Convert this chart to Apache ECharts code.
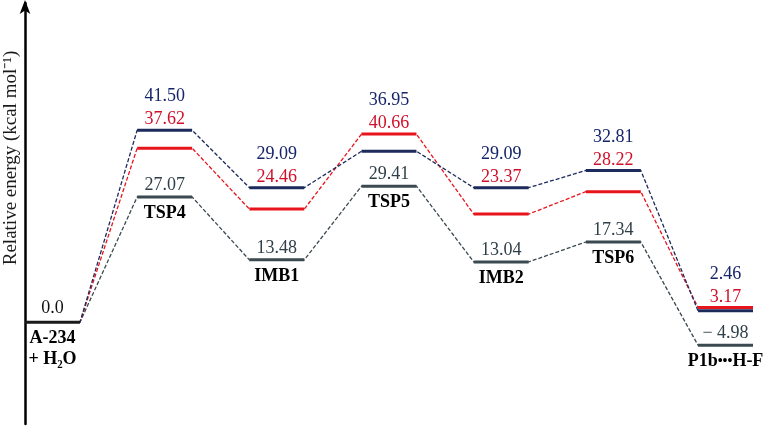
<!DOCTYPE html>
<html><head><meta charset="utf-8">
<script src="https://cdn.jsdelivr.net/npm/echarts@6/dist/echarts.min.js"></script>
<style>html,body{margin:0;padding:0;background:#fff}#c{width:770px;height:427px}</style>
</head><body><div id="c"></div>
<script>
var categories = ['A-234\n+ H₂O', 'TSP4', 'IMB1', 'TSP5', 'IMB2', 'TSP6', 'P1b•••H-F'];
var navyValues = [0, 41.50, 29.09, 36.95, 29.09, 32.81, 2.46];
var redValues  = [0, 37.62, 24.46, 40.66, 23.37, 28.22, 3.17];
var grayValues = [0, 27.07, 13.48, 29.41, 13.04, 17.34, -4.98];
var navyLabels = ['', '41.50', '29.09', '36.95', '29.09', '32.81', '2.46'];
var redLabels  = ['', '37.62', '24.46', '40.66', '23.37', '28.22', '3.17'];
var grayLabels = ['0.0', '27.07', '13.48', '29.41', '13.04', '17.34', '− 4.98'];

var W = 0.49;
var NAVY = '#1c2a5c', RED = '#e8141c', GRAY = '#3b4950', BLACK = '#1a1a1a';
var FONT = 'Liberation Serif';

function pathData(vals) {
  var d = [];
  vals.forEach(function (v, i) { d.push([i, v]); d.push([i + W, v]); });
  return d;
}
function levelData(vals) {
  var d = [];
  vals.forEach(function (v, i) {
    if (i === 0) return;
    d.push([i, v]); d.push([i + W, v]); d.push([i + W + 0.01, '-']);
  });
  return d;
}
function dashSeries(vals, color) {
  return { type: 'line', data: pathData(vals), symbol: 'none', silent: true, z: 2,
    lineStyle: { color: color, width: 1.3, type: [4, 2] } };
}
function levelSeries(vals, color) {
  return { type: 'line', data: levelData(vals), symbol: 'none', silent: true, z: 3,
    lineStyle: { color: color, width: 3 } };
}
function labelSeries(data, texts, color, pos, dist, bold) {
  return { type: 'scatter', symbolSize: 0, silent: true, z: 5,
    itemStyle: { opacity: 1 },
    data: data.map(function (d, i) { return { value: d, name: texts[i] }; }),
    label: { show: true, position: pos, distance: dist, color: color, opacity: 1,
      fontFamily: FONT, fontSize: 18, fontWeight: bold ? 'bold' : 'normal', lineHeight: 21,
      rich: { b: { fontFamily: FONT, fontSize: 14, fontWeight: 'bold', color: color, lineHeight: 21 } },
      formatter: function (p) { return p.name.replace('•••', '{b|•••}'); } } };
}

var topData = navyValues.map(function (v, i) { return [i + W / 2, Math.max(v, redValues[i])]; });
var grayData = grayValues.map(function (v, i) { return [i + W / 2, v]; });

var chart = echarts.init(document.getElementById('c'));
chart.setOption({
  animation: false,
  grid: { left: 25, right: 17, top: 3, bottom: 3 },
  xAxis: { type: 'value', min: 0, max: 6 + W, show: false },
  yAxis: { type: 'value', min: -22, max: 69,
    axisLine: { show: true, onZero: false, symbol: ['none', 'arrow'], symbolSize: [8, 14], symbolOffset: [0, 3],
      lineStyle: { color: '#000', width: 2.5 } },
    axisTick: { show: false }, axisLabel: { show: false }, splitLine: { show: false } },
  graphic: [{ type: 'text', rotation: Math.PI / 2, x: 2, y: 158,
    style: { text: 'Relative energy (kcal mol⁻¹)', font: '19px "Liberation Serif"', fill: '#1a1a1a',
      textAlign: 'center', textVerticalAlign: 'top' } }],
  series: [
    dashSeries(grayValues, GRAY),
    dashSeries(redValues, RED),
    dashSeries(navyValues, NAVY),
    levelSeries(grayValues, GRAY),
    levelSeries(redValues, RED),
    levelSeries(navyValues, NAVY),
    { type: 'line', data: [[0, 0], [W, 0]], symbol: 'none', silent: true, z: 4,
      lineStyle: { color: BLACK, width: 3 } },
    labelSeries(topData, navyLabels, '#16246a', 'top', 23, false),
    labelSeries(topData, redLabels, '#d0102a', 'top', 0, false),
    labelSeries(grayData, grayLabels.map(function (t, i) { return i === 0 ? '' : t; }), '#2f3f47', 'top', 1, false),
    labelSeries([grayData[0]], [grayLabels[0]], '#111', 'top', 3, false),
    labelSeries(grayData, categories, '#000', 'bottom', 6, true)
  ]
});
</script></body></html>
